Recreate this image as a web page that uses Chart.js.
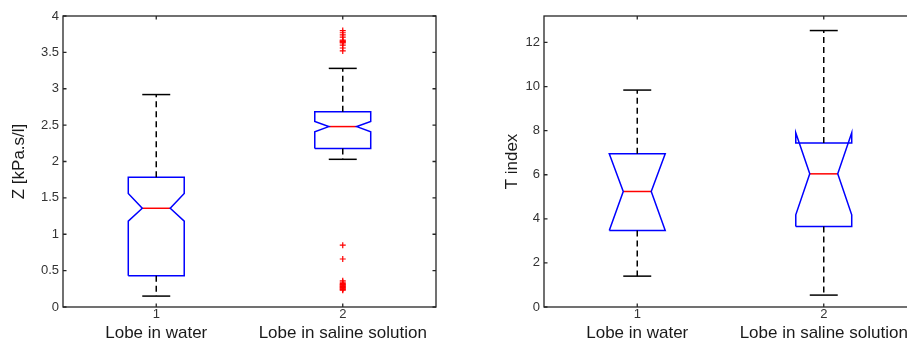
<!DOCTYPE html>
<html lang="en">
  <head>
    <meta charset="UTF-8" />
    <title>Lobe impedance and T index</title>
    <script src="https://cdn.jsdelivr.net/npm/chart.js"></script>
    <style>
      body {
        margin: 0;
        width: 907px;
        height: 343px;
        overflow: hidden;
        background: #ffffff;
        position: relative;
      }
      canvas {
        position: absolute;
        top: 0;
      }
      #zChart { left: 0; }
      #tChart { left: 460px; }
    </style>
  </head>
  <body>
    <canvas id="zChart" width="460" height="343"></canvas>
    <canvas id="tChart" width="460" height="343"></canvas>

    <script>
      // groups shown on both panels
      const groupTicks = ['1', '2'];
      const groupNames = ['Lobe in water', 'Lobe in saline solution'];

      // Z [kPa.s/l] box summaries, one entry per group
      const zWhiskLo = [0.15, 2.03];
      const zQ1 = [0.43, 2.18];
      const zNotchLo = [1.18, 2.41];
      const zMedian = [1.357, 2.48];
      const zNotchHi = [1.56, 2.55];
      const zQ3 = [1.785, 2.685];
      const zWhiskHi = [2.92, 3.28];
      const zOutliers = [
        [],
        [3.80, 3.77, 3.74, 3.71, 3.67, 3.66, 3.65, 3.64, 3.63, 3.60, 3.56, 3.52,
         0.85, 0.66, 0.36, 0.34, 0.32, 0.31, 0.30, 0.29, 0.28, 0.27, 0.26, 0.25, 0.24, 0.23]
      ];
      const zTicks = [0, 0.5, 1, 1.5, 2, 2.5, 3, 3.5, 4];

      // T index box summaries
      const tWhiskLo = [1.40, 0.54];
      const tQ1 = [3.47, 3.65];
      const tNotchLo = [3.47, 4.18];
      const tMedian = [5.24, 6.04];
      const tNotchHi = [6.95, 7.90];
      const tQ3 = [6.95, 7.44];
      const tWhiskHi = [9.84, 12.54];
      const tOutliers = [[], []];
      const tTicks = [0, 2, 4, 6, 8, 10, 12];

      const BOX_W = 0.15;    // half box width, x units
      const NOTCH_W = 0.075; // half width at the notch
      const CAP_W = 0.075;   // half whisker cap width
      const AXIS_COLOR = '#262626';
      const TICK_LEN = 3.5;

      Chart.defaults.font.family = "'Liberation Sans', Arial, sans-serif";
      Chart.defaults.color = '#333333';

      function seg(points, color, dash) {
        return {
          data: points.map(([x, y]) => ({ x, y })),
          showLine: true,
          borderColor: color,
          borderWidth: 1.5,
          borderDash: dash || [],
          borderJoinStyle: 'miter',
          pointRadius: 0,
          fill: false,
          tension: 0
        };
      }

      function boxDatasets(s) {
        const sets = [];
        s.median.forEach((m, i) => {
          const x = i + 1;
          const q1 = s.q1[i], q3 = s.q3[i], lo = s.notchLo[i], hi = s.notchHi[i];
          sets.push(seg([[x, q3], [x, s.whiskHi[i]]], '#000000', [6, 4]));
          sets.push(seg([[x, q1], [x, s.whiskLo[i]]], '#000000', [6, 4]));
          sets.push(seg([[x - CAP_W, s.whiskHi[i]], [x + CAP_W, s.whiskHi[i]]], '#000000'));
          sets.push(seg([[x - CAP_W, s.whiskLo[i]], [x + CAP_W, s.whiskLo[i]]], '#000000'));
          sets.push(seg([
            [x - BOX_W, q1], [x - BOX_W, lo], [x - NOTCH_W, m], [x - BOX_W, hi], [x - BOX_W, q3],
            [x + BOX_W, q3], [x + BOX_W, hi], [x + NOTCH_W, m], [x + BOX_W, lo], [x + BOX_W, q1],
            [x - BOX_W, q1]
          ], '#0000ff'));
          sets.push(seg([[x - NOTCH_W, m], [x + NOTCH_W, m]], '#ff0000'));
          if (s.outliers[i].length) {
            sets.push({
              data: s.outliers[i].map(v => ({ x, y: v })),
              showLine: false,
              pointStyle: 'cross',
              pointRadius: 3,
              borderColor: '#ff0000',
              backgroundColor: '#ff0000',
              pointBorderWidth: 1.2
            });
          }
        });
        return sets;
      }

      // axes box with inward ticks on all four sides
      const framePlugin = {
        id: 'frame',
        afterDatasetsDraw(chart) {
          const { ctx, chartArea: a, scales } = chart;
          ctx.save();
          ctx.strokeStyle = AXIS_COLOR;
          ctx.lineWidth = 1.3;
          ctx.strokeRect(a.left, a.top, a.right - a.left, a.bottom - a.top);
          ctx.beginPath();
          scales.y.ticks.forEach(t => {
            const py = scales.y.getPixelForValue(t.value);
            ctx.moveTo(a.left, py); ctx.lineTo(a.left + TICK_LEN, py);
            ctx.moveTo(a.right, py); ctx.lineTo(a.right - TICK_LEN, py);
          });
          scales.x.ticks.forEach(t => {
            const px = scales.x.getPixelForValue(t.value);
            ctx.moveTo(px, a.bottom); ctx.lineTo(px, a.bottom - TICK_LEN);
            ctx.moveTo(px, a.top); ctx.lineTo(px, a.top + TICK_LEN);
          });
          ctx.stroke();
          ctx.restore();
        }
      };

      function makeChart(id, stats, yTicks, yMax, yTitle, g) {
        const xBase = {
          type: 'linear',
          min: 0.5,
          max: 2.5,
          grid: { display: false, drawTicks: false },
          border: { display: false },
          afterBuildTicks: s => { s.ticks = groupTicks.map((_, i) => ({ value: i + 1 })); }
        };
        return new Chart(document.getElementById(id), {
          type: 'scatter',
          data: { datasets: boxDatasets(stats) },
          options: {
            responsive: false,
            animation: false,
            events: [],
            layout: { padding: { left: 0, top: g.top, right: g.right, bottom: 0 } },
            plugins: { legend: { display: false }, tooltip: { enabled: false } },
            scales: {
              x: Object.assign({}, xBase, {
                afterFit: s => { s.height = 14; },
                ticks: { callback: (v, i) => groupTicks[i], font: { size: 13 }, padding: 0, maxRotation: 0, autoSkip: false }
              }),
              x2: Object.assign({}, xBase, {
                position: 'bottom',
                weight: 1,
                afterFit: s => { s.height = 22; },
                ticks: { callback: (v, i) => groupNames[i], font: { size: 17 }, color: '#1a1a1a', padding: 2, maxRotation: 0, autoSkip: false }
              }),
              y: {
                min: 0,
                max: yMax,
                grid: { display: false, drawTicks: false },
                border: { display: false },
                afterBuildTicks: s => { s.ticks = yTicks.map(v => ({ value: v })); },
                afterFit: s => { s.width = g.yWidth; },
                ticks: { callback: v => String(v), font: { size: 13 }, padding: 4 },
                title: {
                  display: true,
                  text: yTitle,
                  color: '#1a1a1a',
                  font: { size: 17 },
                  padding: { top: g.titlePad, bottom: 0 }
                }
              }
            }
          },
          plugins: [framePlugin]
        });
      }

      makeChart('zChart', {
        whiskLo: zWhiskLo, q1: zQ1, notchLo: zNotchLo, median: zMedian,
        notchHi: zNotchHi, q3: zQ3, whiskHi: zWhiskHi, outliers: zOutliers
      }, zTicks, 4, 'Z [kPa.s/l]', { top: 16, right: 24, yWidth: 63, titlePad: 9 });

      makeChart('tChart', {
        whiskLo: tWhiskLo, q1: tQ1, notchLo: tNotchLo, median: tMedian,
        notchHi: tNotchHi, q3: tQ3, whiskHi: tWhiskHi, outliers: tOutliers
      }, tTicks, 13.2, 'T index', { top: 16, right: 3, yWidth: 84, titlePad: 42 });
    </script>
  </body>
</html>
